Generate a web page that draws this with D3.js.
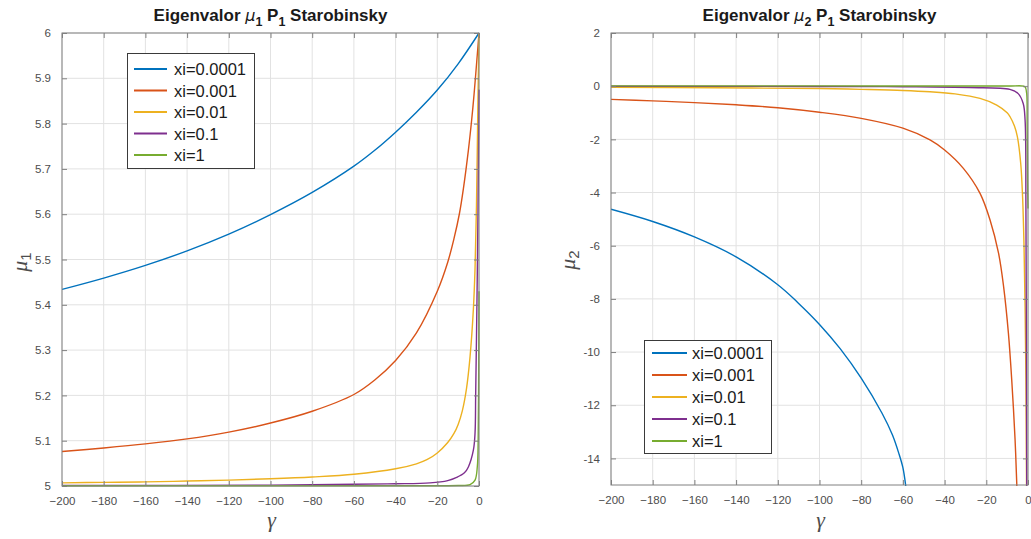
<!DOCTYPE html>
<html><head><meta charset="utf-8">
<script src="https://cdn.jsdelivr.net/npm/d3@7"></script>
<style>
body{margin:0;background:#fff;}
svg{display:block;font-family:"Liberation Sans",Arial,sans-serif;}
</style>
</head><body>
<svg id="c" width="1031" height="539"></svg>
<script>
// ---------- DATA ----------
const xiLabels = ["xi=0.0001", "xi=0.001", "xi=0.01", "xi=0.1", "xi=1"];
const seriesColors = ["#0072BD", "#D95319", "#EDB120", "#7E2F8E", "#77AC30"];
const gammaTicks = [-200, -180, -160, -140, -120, -100, -80, -60, -40, -20, 0];
const mu1Ticks = [5, 5.1, 5.2, 5.3, 5.4, 5.5, 5.6, 5.7, 5.8, 5.9, 6];
const mu2Ticks = [-14, -12, -10, -8, -6, -4, -2, 0, 2];

// mu1 (left panel), [gamma, mu1]
const mu1_xi0001 = [[-200,5.434],[-180,5.459],[-160,5.487],[-140,5.519],[-120,5.556],[-100,5.599],[-80,5.648],[-60,5.706],[-50,5.741],[-40,5.781],[-30,5.825],[-20,5.874],[-10,5.932],[0,6.0]];
const mu1_xi001 = [[-200,5.076],[-180,5.084],[-160,5.093],[-140,5.104],[-120,5.119],[-100,5.139],[-80,5.165],[-60,5.202],[-50,5.234],[-40,5.277],[-30,5.338],[-20,5.430],[-15,5.494],[-12,5.546],[-9.4,5.601],[-7.5,5.656],[-5.1,5.741],[-3.5,5.809],[-2.4,5.863],[-1.1,5.936],[0,6.0]];
const mu1_xi01 = [[-200,5.007],[-180,5.008],[-160,5.009],[-140,5.011],[-120,5.013],[-100,5.016],[-80,5.020],[-60,5.026],[-40,5.038],[-30,5.049],[-25,5.058],[-20,5.073],[-15,5.096],[-12,5.116],[-10,5.136],[-8,5.166],[-6,5.215],[-4.3,5.285],[-2.7,5.390],[-1.9,5.480],[-1.2,5.620],[-0.6,5.820],[0,6.0]];
const mu1_xi1 = [[-200,5.001],[-100,5.002],[-60,5.004],[-40,5.005],[-23.5,5.007],[-15,5.012],[-10.7,5.019],[-7,5.029],[-5.1,5.042],[-2.7,5.079],[-1.9,5.117],[-1.6,5.200],[-1,5.400],[-0.5,5.600],[-0.2,5.750],[0,5.875]];
const mu1_xi10 = [[-200,5.0005],[-20,5.0007],[-10,5.001],[-4.3,5.003],[-1.9,5.013],[-0.8,5.043],[-0.4,5.100],[-0.15,5.250],[0,5.430]];

// mu2 (right panel), [gamma, mu2]
const mu2_xi0001 = [[-200,-4.63],[-180,-5.09],[-160,-5.67],[-140,-6.42],[-120,-7.47],[-110,-8.17],[-100,-8.96],[-90,-9.88],[-80,-10.98],[-70,-12.3],[-65,-13.12],[-62,-13.8],[-60,-14.35],[-58.7,-15.0],[-58.3,-15.3]];
const mu2_xi001 = [[-200,-0.495],[-180,-0.553],[-160,-0.617],[-140,-0.70],[-120,-0.81],[-100,-0.98],[-80,-1.21],[-60,-1.58],[-47,-2.02],[-40,-2.40],[-31,-3.09],[-23,-4.03],[-18.2,-5.03],[-14.1,-6.29],[-11.7,-7.54],[-9.4,-9.29],[-7.8,-11.05],[-6.2,-13.3],[-5.4,-14.93],[-5.3,-15.2]];
const mu2_xi01 = [[-200,-0.04],[-150,-0.06],[-100,-0.09],[-80,-0.12],[-60,-0.16],[-47,-0.21],[-35,-0.29],[-23,-0.46],[-15,-0.71],[-10,-1.0],[-8.6,-1.15],[-6.5,-1.5],[-5.1,-1.9],[-3.5,-2.9],[-2.6,-4.16],[-1.9,-6.04],[-1.4,-8.3],[-1.0,-11.0],[-0.7,-15.2]];
const mu2_xi1 = [[-200,-0.005],[-100,-0.01],[-60,-0.02],[-28,-0.05],[-8.7,-0.12],[-4.7,-0.28],[-2.3,-0.65],[-1.4,-1.27],[-1.0,-4.5],[-0.6,-15.2]];
const mu2_xi10 = [[-200,0.01],[-100,0.01],[-10,0.005],[-2,0.0],[-1.2,-0.05],[-0.6,-0.3],[-0.4,-1.5],[-0.2,-3.5],[0,-4.6]];

// ---------- LAYOUT ----------
const panels = [
  {left:62, right:479, top:33, bottom:486, yDomain:[5,6], yTicks:mu1Ticks, sub:"1",
   series:[mu1_xi0001, mu1_xi001, mu1_xi01, mu1_xi1, mu1_xi10],
   ylabX:27, ylabY:262,
   legend:{x:127, y:53, w:127, h:115, l0:134, l1:167, tx:174, r0:69, dr:21.5}},
  {left:611, right:1028, top:33, bottom:485, yDomain:[-15,2], yTicks:mu2Ticks, sub:"2",
   series:[mu2_xi0001, mu2_xi001, mu2_xi01, mu2_xi1, mu2_xi10],
   ylabX:575, ylabY:260,
   legend:{x:644, y:340, w:127, h:113, l0:652, l1:687, tx:692, r0:353, dr:22}}
];

const svg = d3.select("#c");
const axisCol = "#808080", tickTextCol = "#4d4d4d", gridCol = "#e2e2e2";

panels.forEach((p, pi) => {
  const x = d3.scaleLinear().domain([-200, 0]).range([p.left, p.right]);
  const y = d3.scaleLinear().domain(p.yDomain).range([p.bottom, p.top]);
  const g = svg.append("g");

  // grid
  g.selectAll(".gx").data(gammaTicks).enter().append("line")
    .attr("x1", d => x(d)).attr("x2", d => x(d)).attr("y1", p.top).attr("y2", p.bottom)
    .attr("stroke", gridCol).attr("stroke-width", 1);
  g.selectAll(".gy").data(p.yTicks).enter().append("line")
    .attr("x1", p.left).attr("x2", p.right).attr("y1", d => y(d)).attr("y2", d => y(d))
    .attr("stroke", gridCol).attr("stroke-width", 1);

  // clip
  const cid = "clip" + pi;
  svg.append("defs").append("clipPath").attr("id", cid).append("rect")
    .attr("x", p.left).attr("y", p.top - 1).attr("width", p.right - p.left + 1).attr("height", p.bottom - p.top + 2);

  // lines
  const line = d3.line().x(d => x(d[0])).y(d => y(d[1])).curve(d3.curveCatmullRom.alpha(0.5));
  const lg = g.append("g").attr("clip-path", `url(#${cid})`);
  p.series.forEach((s, i) => {
    lg.append("path").attr("d", line(s)).attr("fill", "none")
      .attr("stroke", seriesColors[i]).attr("stroke-width", 1.4);
  });

  // frame
  g.append("rect").attr("x", p.left).attr("y", p.top)
    .attr("width", p.right - p.left).attr("height", p.bottom - p.top)
    .attr("fill", "none").attr("stroke", axisCol).attr("stroke-width", 1);

  // axes via d3 axis (ticks inside)
  const xAxis = d3.axisBottom(x).tickValues(gammaTicks).tickSize(-5).tickPadding(11).tickFormat(d3.format("d"));
  const xa = g.append("g").attr("transform", `translate(0,${p.bottom})`).call(xAxis);
  const xAxisTop = d3.axisTop(x).tickValues(gammaTicks).tickSize(-5).tickFormat("");
  const xt = g.append("g").attr("transform", `translate(0,${p.top})`).call(xAxisTop);
  const yAxis = d3.axisLeft(y).tickValues(p.yTicks).tickSize(-5).tickPadding(11).tickFormat(d => String(+d.toFixed(1)));
  const ya = g.append("g").attr("transform", `translate(${p.left},0)`).call(yAxis);
  const yAxisR = d3.axisRight(y).tickValues(p.yTicks).tickSize(-5).tickFormat("");
  const yr = g.append("g").attr("transform", `translate(${p.right},0)`).call(yAxisR);
  [xa, xt, ya, yr].forEach(a => {
    a.select(".domain").remove();
    a.selectAll(".tick line").attr("stroke", axisCol);
    a.selectAll(".tick text").attr("fill", tickTextCol).attr("font-size", 11.5)
      .attr("font-family", "'Liberation Sans', Arial, sans-serif");
  });

  // title
  const cx = (p.left + p.right) / 2;
  const t = g.append("text").attr("x", cx).attr("y", 21).attr("text-anchor", "middle")
    .attr("font-size", 17).attr("font-weight", "bold").attr("fill", "#1a1a1a");
  t.append("tspan").text("Eigenvalor ");
  t.append("tspan").attr("font-style", "italic").attr("font-weight", "normal")
    .attr("font-family", "'DejaVu Sans', sans-serif").attr("font-size", 16).text("\u03bc");
  t.append("tspan").attr("dy", 5).attr("font-size", 12.5).text(p.sub);
  t.append("tspan").attr("dy", -5).text(" P");
  t.append("tspan").attr("dy", 5).attr("font-size", 12.5).text("1");
  t.append("tspan").attr("dy", -5).text(" Starobinsky");

  // x label
  g.append("text").attr("x", cx + 1).attr("y", 527).attr("text-anchor", "middle")
    .attr("font-family", "'Liberation Serif', serif").attr("font-style", "italic")
    .attr("font-size", 22).attr("fill", "#4d4d4d").text("\u03b3");

  // y label
  const yl = g.append("text").attr("transform", `translate(${p.ylabX},${p.ylabY}) rotate(-90)`)
    .attr("text-anchor", "middle").attr("fill", "#4d4d4d")
    .attr("font-family", "'Liberation Serif', serif").attr("font-size", 22);
  yl.append("tspan").attr("font-style", "italic").text("\u03bc");
  yl.append("tspan").attr("dy", 4).attr("font-size", 15)
    .attr("font-family", "'Liberation Sans', Arial, sans-serif").text(p.sub);

  // legend
  const L = p.legend;
  const lgd = g.append("g");
  lgd.append("rect").attr("x", L.x + 0.5).attr("y", L.y + 0.5).attr("width", L.w).attr("height", L.h)
    .attr("fill", "#fff").attr("stroke", "#3a3a3a").attr("stroke-width", 1);
  xiLabels.forEach((lab, i) => {
    const ry = L.r0 + i * L.dr;
    lgd.append("line").attr("x1", L.l0).attr("x2", L.l1).attr("y1", ry).attr("y2", ry)
      .attr("stroke", seriesColors[i]).attr("stroke-width", 2);
    lgd.append("text").attr("x", L.tx).attr("y", ry + 6).attr("font-size", 16.5)
      .attr("fill", "#1a1a1a").text(lab);
  });
});
</script>
</body></html>
